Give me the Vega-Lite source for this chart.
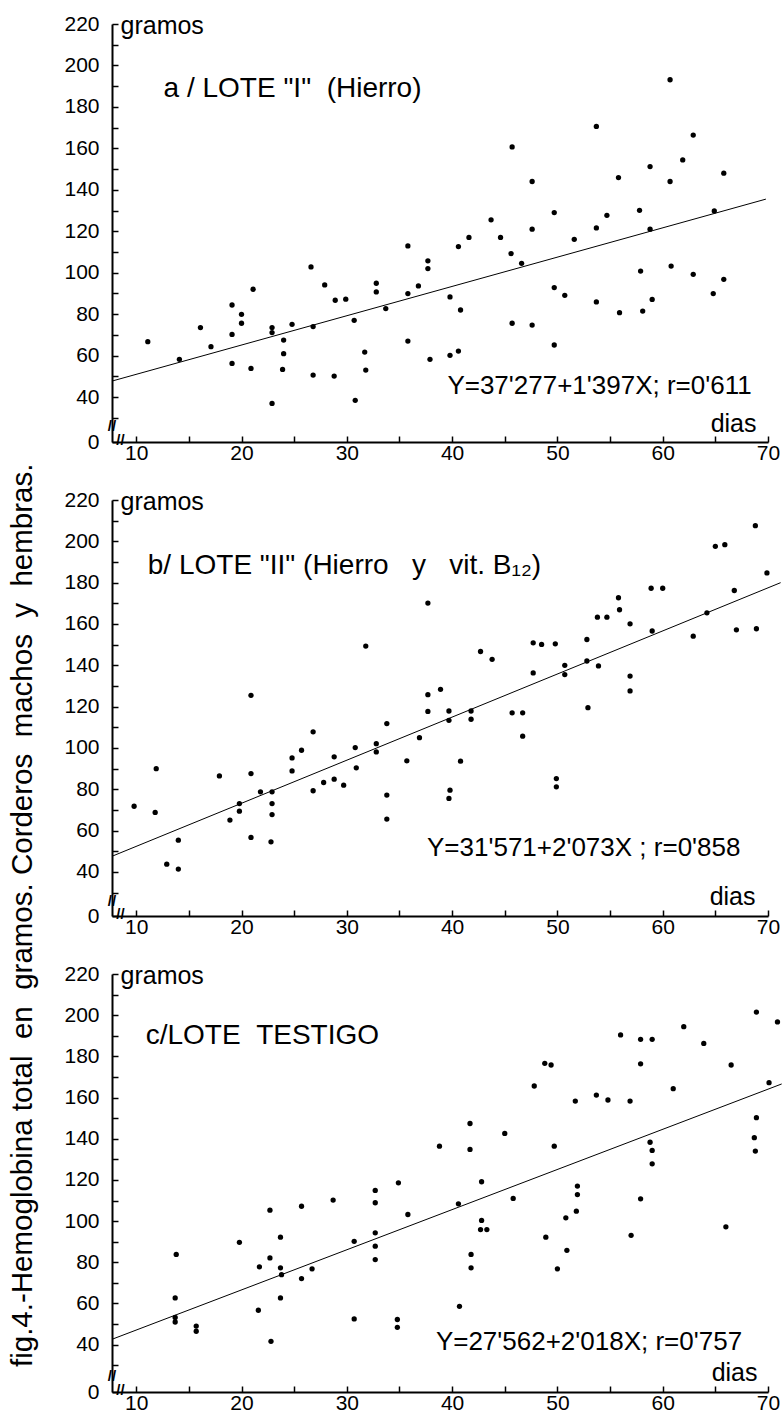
{
  "$schema": "https://vega.github.io/schema/vega-lite/v6.json",
  "background": "white",
  "padding": {"left": 8, "top": 13, "right": 0, "bottom": 0},
  "title": {
    "text": "fig.4.-Hemoglobina total\u00a0 en\u00a0 gramos.\u00a0Corderos\u00a0 machos\u00a0 y\u00a0 hembras.",
    "orient": "left",
    "anchor": "start",
    "font": "Liberation Sans",
    "fontSize": 29.5,
    "fontWeight": "normal",
    "color": "black",
    "offset": 25,
    "dx": 46
  },
  "config": {
    "view": {"stroke": null},
    "font": "Liberation Sans",
    "axis": {
      "grid": false,
      "domainColor": "black",
      "domainWidth": 2,
      "tickColor": "black",
      "tickWidth": 1.5,
      "tickSize": -6,
      "labelColor": "black",
      "labelFont": "Liberation Sans",
      "labelFontSize": 21,
      "titleFont": "Liberation Sans",
      "titleColor": "black",
      "titleFontWeight": "normal",
      "labelOverlap": false,
      "labelFlush": false
    }
  },
  "bounds": "flush",
  "spacing": 58,
  "vconcat": [
    {
      "width": 656,
      "height": 418,
      "encoding": {
        "x": {"field": "dias", "type": "quantitative",
          "scale": {"domain": [7.7, 70], "nice": false, "zero": false},
          "axis": {"values": [10,15,20,25,30,35,40,45,50,55,60,65,70],
            "labelExpr": "datum.value % 10 === 0 ? datum.label : ''",
            "labelPadding": 6, "title": "dias", "titleFontSize": 25,
            "titleAlign": "right", "titleBaseline": "alphabetic", "titleX": 644, "titleY": -11}},
        "y": {"field": "hb", "type": "quantitative",
          "scale": {"domain": [18.3, 220], "nice": false, "zero": false},
          "axis": {"values": [18.3,30,40,50,60,70,80,90,100,110,120,130,140,150,160,170,180,190,200,210,220],
            "labelExpr": "datum.value < 25 ? '0' : (datum.value % 20 === 0 ? datum.label : '')",
            "labelPadding": 19, "title": "gramos", "titleFontSize": 25, "titleAngle": 0,
            "titleAlign": "left", "titleBaseline": "alphabetic", "titleX": 8, "titleY": 9}}
      },
      "layer": [
        {"data": {"values": [{"dias": 7.7, "hb": 47.7}, {"dias": 69.8, "hb": 135.5}]},
          "mark": {"type": "line", "color": "black", "strokeWidth": 1}},
        {"data": {"values": [
          {"dias":11.1,"hb":66.7},{"dias":14.1,"hb":58.2},{"dias":16.1,"hb":73.5},{"dias":17.1,"hb":64.3},
          {"dias":19.1,"hb":84.4},{"dias":19.1,"hb":70.2},{"dias":19.1,"hb":56.2},{"dias":20.0,"hb":79.9},
          {"dias":20.0,"hb":75.6},{"dias":21.1,"hb":92.0},{"dias":20.9,"hb":53.8},{"dias":22.9,"hb":73.5},
          {"dias":22.9,"hb":71.1},{"dias":22.9,"hb":36.9},{"dias":24.0,"hb":67.5},{"dias":24.0,"hb":60.9},
          {"dias":23.9,"hb":53.3},{"dias":24.8,"hb":75.1},{"dias":26.6,"hb":102.8},{"dias":26.8,"hb":74.0},
          {"dias":26.8,"hb":50.6},{"dias":27.9,"hb":94.1},{"dias":28.9,"hb":86.7},{"dias":28.8,"hb":50.1},
          {"dias":29.9,"hb":87.2},{"dias":30.7,"hb":77.0},{"dias":30.8,"hb":38.4},{"dias":31.7,"hb":61.7},
          {"dias":31.8,"hb":53.0},{"dias":32.8,"hb":94.9},{"dias":32.8,"hb":90.7},{"dias":33.7,"hb":82.7},
          {"dias":35.8,"hb":112.9},{"dias":35.8,"hb":89.9},{"dias":35.8,"hb":67.0},{"dias":36.8,"hb":93.6},
          {"dias":37.7,"hb":105.7},{"dias":37.7,"hb":102.0},{"dias":37.9,"hb":58.2},{"dias":39.8,"hb":88.3},
          {"dias":39.8,"hb":60.1},{"dias":40.6,"hb":112.6},{"dias":40.8,"hb":82.0},{"dias":40.6,"hb":62.2},
          {"dias":41.6,"hb":117.0},{"dias":43.7,"hb":125.5},{"dias":44.6,"hb":117.0},{"dias":45.6,"hb":109.2},
          {"dias":45.7,"hb":160.7},{"dias":45.7,"hb":75.6},{"dias":46.6,"hb":104.5},{"dias":47.6,"hb":144.0},
          {"dias":47.6,"hb":121.0},{"dias":47.6,"hb":74.7},{"dias":49.7,"hb":129.0},{"dias":49.7,"hb":92.8},
          {"dias":49.7,"hb":65.1},{"dias":50.7,"hb":89.1},{"dias":51.6,"hb":116.1},{"dias":53.7,"hb":170.6},
          {"dias":53.7,"hb":121.6},{"dias":53.7,"hb":85.9},{"dias":54.7,"hb":127.7},{"dias":55.8,"hb":145.9},
          {"dias":55.9,"hb":80.7},{"dias":57.8,"hb":130.1},{"dias":57.9,"hb":100.8},{"dias":58.1,"hb":81.5},
          {"dias":58.8,"hb":151.2},{"dias":58.8,"hb":121.0},{"dias":59.0,"hb":87.1},{"dias":60.7,"hb":193.1},
          {"dias":60.7,"hb":144.0},{"dias":60.8,"hb":103.2},{"dias":61.9,"hb":154.4},{"dias":62.9,"hb":166.4},
          {"dias":62.9,"hb":99.2},{"dias":64.8,"hb":89.9},{"dias":64.9,"hb":129.8},{"dias":65.8,"hb":148.0},
          {"dias":65.8,"hb":96.8}]},
          "mark": {"type": "circle", "color": "black", "size": 28, "opacity": 1}},
        {"data": {"values": [{"dias": 12.6, "hb": 188.6, "txt": "a / LOTE \"I\"\u00a0 (Hierro)"}]},
          "mark": {"type": "text", "align": "left", "baseline": "middle", "fontSize": 28, "color": "black"},
          "encoding": {"text": {"field": "txt"}}},
        {"data": {"values": [{"dias": 54.0, "hb": 45.1, "txt": "Y=37'277+1'397X; r=0'611"}]},
          "mark": {"type": "text", "align": "center", "baseline": "middle", "fontSize": 26, "color": "black"},
          "encoding": {"text": {"field": "txt"}}},
        {"data": {"values": [{"dias": 7.7, "hb": 26, "txt": "//"}, {"dias": 8.5, "hb": 19.5, "txt": "//"}]},
          "mark": {"type": "text", "align": "center", "baseline": "middle", "fontSize": 15, "fontWeight": "bold", "color": "black"},
          "encoding": {"text": {"field": "txt"}}}
      ]
    },
    {
      "width": 656,
      "height": 416,
      "encoding": {
        "x": {"field": "dias", "type": "quantitative",
          "scale": {"domain": [7.7, 70], "nice": false, "zero": false},
          "axis": {"values": [10,15,20,25,30,35,40,45,50,55,60,65,70],
            "labelExpr": "datum.value % 10 === 0 ? datum.label : ''",
            "labelPadding": 6, "title": "dias", "titleFontSize": 25,
            "titleAlign": "right", "titleBaseline": "alphabetic", "titleX": 643, "titleY": -12}},
        "y": {"field": "hb", "type": "quantitative",
          "scale": {"domain": [18.7, 220], "nice": false, "zero": false},
          "axis": {"values": [18.7,30,40,50,60,70,80,90,100,110,120,130,140,150,160,170,180,190,200,210,220],
            "labelExpr": "datum.value < 25 ? '0' : (datum.value % 20 === 0 ? datum.label : '')",
            "labelPadding": 19, "title": "gramos", "titleFontSize": 25, "titleAngle": 0,
            "titleAlign": "left", "titleBaseline": "alphabetic", "titleX": 8, "titleY": 9}}
      },
      "layer": [
        {"data": {"values": [{"dias": 7.7, "hb": 47.6}, {"dias": 71.2, "hb": 180.0}]},
          "mark": {"type": "line", "color": "black", "strokeWidth": 1}},
        {"data": {"values": [
          {"dias":9.8,"hb":71.8},{"dias":11.8,"hb":68.8},{"dias":11.9,"hb":90.0},{"dias":12.9,"hb":43.8},
          {"dias":14.0,"hb":55.4},{"dias":14.0,"hb":41.4},{"dias":17.9,"hb":86.5},{"dias":18.9,"hb":65.1},
          {"dias":19.8,"hb":73.1},{"dias":19.8,"hb":69.4},{"dias":20.9,"hb":125.5},{"dias":20.9,"hb":87.6},
          {"dias":20.9,"hb":56.7},{"dias":21.8,"hb":78.8},{"dias":22.9,"hb":78.8},{"dias":22.9,"hb":73.1},
          {"dias":22.9,"hb":67.8},{"dias":22.8,"hb":54.6},{"dias":24.8,"hb":95.2},{"dias":24.8,"hb":88.9},
          {"dias":25.7,"hb":98.9},{"dias":26.8,"hb":107.8},{"dias":26.8,"hb":79.3},{"dias":27.8,"hb":83.3},
          {"dias":28.8,"hb":95.7},{"dias":28.8,"hb":84.9},{"dias":29.7,"hb":82.0},{"dias":30.8,"hb":100.2},
          {"dias":30.9,"hb":90.4},{"dias":31.8,"hb":149.3},{"dias":32.8,"hb":102.1},{"dias":32.8,"hb":98.1},
          {"dias":33.8,"hb":111.8},{"dias":33.8,"hb":77.2},{"dias":33.8,"hb":65.6},{"dias":35.7,"hb":93.8},
          {"dias":36.9,"hb":105.0},{"dias":37.7,"hb":170.1},{"dias":37.7,"hb":125.8},{"dias":37.7,"hb":117.7},
          {"dias":38.9,"hb":128.4},{"dias":39.7,"hb":117.9},{"dias":39.7,"hb":113.4},{"dias":39.8,"hb":79.6},
          {"dias":39.7,"hb":75.6},{"dias":40.8,"hb":93.6},{"dias":41.8,"hb":117.9},{"dias":41.8,"hb":113.9},
          {"dias":42.7,"hb":146.7},{"dias":43.8,"hb":142.9},{"dias":45.7,"hb":117.0},{"dias":46.7,"hb":117.0},
          {"dias":46.7,"hb":105.7},{"dias":47.7,"hb":150.9},{"dias":47.7,"hb":136.3},{"dias":48.5,"hb":150.1},
          {"dias":49.8,"hb":150.4},{"dias":49.9,"hb":85.2},{"dias":49.9,"hb":81.2},{"dias":50.7,"hb":140.0},
          {"dias":50.7,"hb":135.5},{"dias":52.8,"hb":152.5},{"dias":52.8,"hb":142.1},{"dias":52.9,"hb":119.5},
          {"dias":53.8,"hb":163.3},{"dias":53.9,"hb":139.7},{"dias":54.7,"hb":163.3},{"dias":55.8,"hb":172.7},
          {"dias":55.9,"hb":166.9},{"dias":56.9,"hb":160.1},{"dias":56.9,"hb":134.8},{"dias":56.9,"hb":127.6},
          {"dias":58.9,"hb":177.3},{"dias":60.0,"hb":177.3},{"dias":59.0,"hb":156.6},{"dias":62.9,"hb":154.1},
          {"dias":64.2,"hb":165.4},{"dias":65.0,"hb":197.6},{"dias":65.9,"hb":198.4},{"dias":66.8,"hb":176.2},
          {"dias":67.0,"hb":157.2},{"dias":68.8,"hb":207.6},{"dias":68.9,"hb":157.7},{"dias":69.9,"hb":184.7}]},
          "mark": {"type": "circle", "color": "black", "size": 28, "opacity": 1}},
        {"data": {"values": [{"dias": 11.1, "hb": 188.1, "txt": "b/ LOTE \"II\" (Hierro\u00a0\u00a0 y\u00a0\u00a0 vit. B\u2081\u2082)"}]},
          "mark": {"type": "text", "align": "left", "baseline": "middle", "fontSize": 28, "color": "black"},
          "encoding": {"text": {"field": "txt"}}},
        {"data": {"values": [{"dias": 52.5, "hb": 51.6, "txt": "Y=31'571+2'073X ; r=0'858"}]},
          "mark": {"type": "text", "align": "center", "baseline": "middle", "fontSize": 26, "color": "black"},
          "encoding": {"text": {"field": "txt"}}},
        {"data": {"values": [{"dias": 7.7, "hb": 26.2, "txt": "//"}, {"dias": 8.5, "hb": 19.9, "txt": "//"}]},
          "mark": {"type": "text", "align": "center", "baseline": "middle", "fontSize": 15, "fontWeight": "bold", "color": "black"},
          "encoding": {"text": {"field": "txt"}}}
      ]
    },
    {
      "width": 656,
      "height": 418,
      "encoding": {
        "x": {"field": "dias", "type": "quantitative",
          "scale": {"domain": [7.7, 70], "nice": false, "zero": false},
          "axis": {"values": [10,15,20,25,30,35,40,45,50,55,60,65,70],
            "labelExpr": "datum.value % 10 === 0 ? datum.label : ''",
            "labelPadding": 6, "title": "dias", "titleFontSize": 25,
            "titleAlign": "right", "titleBaseline": "alphabetic", "titleX": 645, "titleY": -12}},
        "y": {"field": "hb", "type": "quantitative",
          "scale": {"domain": [17, 220], "nice": false, "zero": false},
          "axis": {"values": [17,30,40,50,60,70,80,90,100,110,120,130,140,150,160,170,180,190,200,210,220],
            "labelExpr": "datum.value < 25 ? '0' : (datum.value % 20 === 0 ? datum.label : '')",
            "labelPadding": 19, "title": "gramos", "titleFontSize": 25, "titleAngle": 0,
            "titleAlign": "left", "titleBaseline": "alphabetic", "titleX": 8, "titleY": 9}}
      },
      "layer": [
        {"data": {"values": [{"dias": 7.7, "hb": 42.6}, {"dias": 71.3, "hb": 166.6}]},
          "mark": {"type": "line", "color": "black", "strokeWidth": 1}},
        {"data": {"values": [
          {"dias":13.8,"hb":83.8},{"dias":13.7,"hb":62.7},{"dias":13.7,"hb":53.2},{"dias":13.7,"hb":51.0},
          {"dias":15.7,"hb":49.0},{"dias":15.7,"hb":46.5},{"dias":19.8,"hb":89.7},{"dias":21.7,"hb":77.8},
          {"dias":21.6,"hb":56.7},{"dias":22.7,"hb":105.3},{"dias":22.7,"hb":82.1},{"dias":22.8,"hb":41.6},
          {"dias":23.7,"hb":92.2},{"dias":23.7,"hb":77.3},{"dias":23.8,"hb":74.0},{"dias":23.7,"hb":62.7},
          {"dias":25.7,"hb":72.1},{"dias":25.7,"hb":107.2},{"dias":26.7,"hb":76.8},{"dias":28.7,"hb":110.2},
          {"dias":30.7,"hb":90.2},{"dias":30.7,"hb":52.5},{"dias":32.7,"hb":114.9},{"dias":32.7,"hb":108.9},
          {"dias":32.7,"hb":94.3},{"dias":32.7,"hb":87.8},{"dias":32.7,"hb":81.3},{"dias":34.8,"hb":52.2},
          {"dias":34.8,"hb":48.4},{"dias":34.9,"hb":118.6},{"dias":35.8,"hb":103.2},{"dias":38.8,"hb":136.4},
          {"dias":40.6,"hb":108.4},{"dias":40.7,"hb":58.6},{"dias":41.7,"hb":147.4},{"dias":41.7,"hb":134.8},
          {"dias":41.8,"hb":83.8},{"dias":41.8,"hb":77.3},{"dias":42.8,"hb":119.1},{"dias":42.8,"hb":100.3},
          {"dias":42.7,"hb":95.9},{"dias":43.3,"hb":95.9},{"dias":45.0,"hb":142.6},{"dias":45.8,"hb":111.0},
          {"dias":47.8,"hb":165.6},{"dias":48.8,"hb":176.6},{"dias":49.4,"hb":175.8},{"dias":49.7,"hb":136.4},
          {"dias":48.9,"hb":92.2},{"dias":50.0,"hb":76.8},{"dias":50.8,"hb":101.6},{"dias":50.9,"hb":85.8},
          {"dias":51.7,"hb":158.3},{"dias":51.9,"hb":117.0},{"dias":51.9,"hb":112.9},{"dias":51.8,"hb":104.8},
          {"dias":53.7,"hb":161.2},{"dias":54.8,"hb":158.8},{"dias":56.0,"hb":190.4},{"dias":56.9,"hb":158.3},
          {"dias":57.0,"hb":93.1},{"dias":57.9,"hb":188.3},{"dias":57.9,"hb":176.4},{"dias":57.9,"hb":110.8},
          {"dias":59.0,"hb":188.3},{"dias":58.8,"hb":138.3},{"dias":59.0,"hb":134.3},{"dias":59.0,"hb":127.8},
          {"dias":61.0,"hb":164.3},{"dias":62.0,"hb":194.4},{"dias":63.9,"hb":186.3},{"dias":66.0,"hb":97.2},
          {"dias":66.5,"hb":175.8},{"dias":68.9,"hb":201.5},{"dias":68.9,"hb":150.2},{"dias":68.7,"hb":140.5},
          {"dias":68.8,"hb":134.0},{"dias":70.1,"hb":167.2},{"dias":70.9,"hb":196.7}]},
          "mark": {"type": "circle", "color": "black", "size": 28, "opacity": 1}},
        {"data": {"values": [{"dias": 10.9, "hb": 189.7, "txt": "c/LOTE\u00a0\u00a0TESTIGO"}]},
          "mark": {"type": "text", "align": "left", "baseline": "middle", "fontSize": 28, "color": "black"},
          "encoding": {"text": {"field": "txt"}}},
        {"data": {"values": [{"dias": 53.0, "hb": 41.5, "txt": "Y=27'562+2'018X; r=0'757"}]},
          "mark": {"type": "text", "align": "center", "baseline": "middle", "fontSize": 26, "color": "black"},
          "encoding": {"text": {"field": "txt"}}},
        {"data": {"values": [{"dias": 7.7, "hb": 25, "txt": "//"}, {"dias": 8.5, "hb": 18.2, "txt": "//"}]},
          "mark": {"type": "text", "align": "center", "baseline": "middle", "fontSize": 15, "fontWeight": "bold", "color": "black"},
          "encoding": {"text": {"field": "txt"}}}
      ]
    }
  ]
}
